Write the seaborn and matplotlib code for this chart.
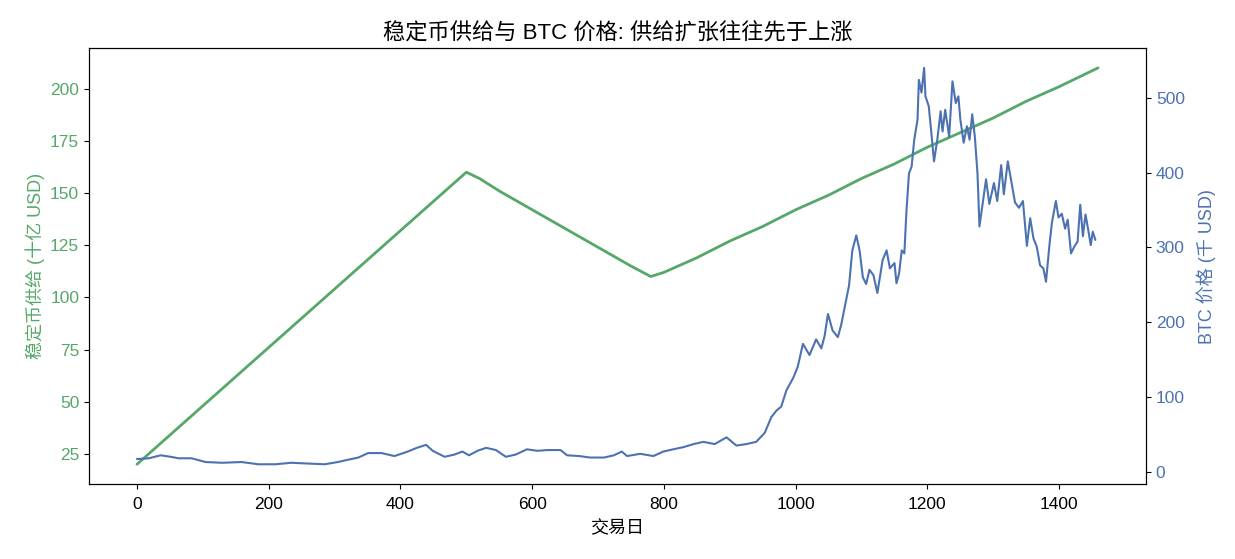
import numpy as np
import pandas as pd
import matplotlib
matplotlib.use("Agg")
import matplotlib.pyplot as plt
import seaborn as sns

# --------------------------------------------------
# Data

supply_day = [0, 50, 100, 150, 200, 250, 300, 350, 400, 450, 500, 520, 550, 600,
              650, 700, 750, 780, 800, 850, 900, 950, 1000, 1050, 1100, 1150,
              1200, 1250, 1300, 1350, 1400, 1459]
supply_val = [20, 34, 48, 62, 76, 90, 104, 118, 132, 146, 160, 157, 151, 142,
              133, 124, 115, 110, 112, 119, 127, 134, 142, 149, 157, 164,
              172, 179, 186, 194, 201, 210]

btc_day = [0, 18, 36, 51, 63, 83, 104, 129, 159, 184, 210, 234, 260, 285, 305,
           320, 336, 351, 371, 391, 411, 425, 439, 449, 467, 482, 494, 504, 517,
           530, 545, 560, 575, 592, 608, 623, 643, 653, 671, 688, 709, 724, 736,
           744, 764, 784, 799, 814, 830, 845, 860, 877, 895, 910, 925, 940, 953,
           963, 971, 978, 986, 996, 1003, 1011, 1021, 1031, 1039, 1044, 1049,
           1056, 1064, 1069, 1074, 1081, 1086, 1092, 1097, 1102, 1107, 1112,
           1118, 1124, 1132, 1138, 1143, 1150, 1153, 1157, 1161, 1165, 1168,
           1172, 1176, 1180, 1185, 1187, 1191, 1195, 1197, 1202, 1206, 1210,
           1215, 1220, 1223, 1227, 1233, 1238, 1243, 1247, 1250, 1255, 1260,
           1264, 1268, 1272, 1276, 1279, 1283, 1289, 1294, 1301, 1306, 1312,
           1316, 1322, 1328, 1333, 1339, 1345, 1351, 1356, 1361, 1366, 1371,
           1376, 1380, 1385, 1389, 1395, 1399, 1404, 1409, 1413, 1418, 1423,
           1428, 1432, 1436, 1440, 1444, 1448, 1451, 1455]
btc_val = [17, 18, 22, 20, 18, 18, 13, 12, 13, 10, 10, 12, 11, 10, 13,
           16, 19, 25, 25, 21, 27, 32, 36, 28, 20, 23, 27, 22, 28,
           32, 29, 20, 23, 30, 28, 29, 29, 22, 21, 19, 19, 22, 27,
           21, 24, 21, 27, 30, 33, 37, 40, 37, 46, 35, 37, 40, 52,
           73, 82, 87, 109, 125, 140, 171, 156, 177, 165, 182, 211,
           189, 180, 196, 218, 249, 296, 316, 296, 260, 251, 270,
           263, 239, 283, 296, 272, 279, 252, 265, 296, 292, 346,
           399, 408, 444, 471, 524, 507, 540, 502, 489, 453, 415,
           444, 482, 455, 484, 448, 522, 493, 502, 471, 440, 462,
           444, 478, 448, 399, 328, 353, 391, 358, 386, 362, 410,
           371, 415, 385, 360, 353, 362, 302, 339, 312, 301, 276,
           272, 254, 301, 333, 362, 340, 345, 325, 337, 292, 301,
           308, 357, 315, 344, 324, 303, 321, 310]

supply = pd.DataFrame({"day": supply_day, "supply": supply_val})
btc = pd.DataFrame({"day": btc_day, "price": btc_val})

green = "#55a868"
blue = "#4c72b0"

sns.set_style("ticks")
plt.rcParams["font.family"] = ["Liberation Sans", "Noto Sans CJK SC", "DejaVu Sans"]
plt.rcParams["text.color"] = "black"
plt.rcParams["axes.labelcolor"] = "black"
plt.rcParams["xtick.color"] = "black"
plt.rcParams["ytick.color"] = "black"

# --------------------------------------------------
# Plot

fig, ax = plt.subplots(figsize=(12.35, 5.59), dpi=100)
fig.subplots_adjust(left=0.072, right=0.928, top=0.914, bottom=0.134)

sns.lineplot(data=supply, x="day", y="supply", ax=ax, color=green, linewidth=2)

ax2 = ax.twinx()
sns.lineplot(data=btc, x="day", y="price", ax=ax2, color=blue, linewidth=1.5)

ax.set_xticks(range(0, 1401, 200))
ax.set_yticks(range(25, 201, 25))
ax2.set_yticks(range(0, 501, 100))

ax.set_xlabel("交易日", fontsize=13, labelpad=6)
ax.set_ylabel("稳定币供给 (十亿 USD)", color=green, fontsize=13)
ax2.set_ylabel("BTC 价格 (千 USD)", color=blue, fontsize=13, labelpad=8)
ax.tick_params(axis="y", labelcolor=green, labelsize=12.5)
ax.tick_params(axis="x", labelsize=12.5, pad=6)
ax2.tick_params(axis="y", labelcolor=blue, labelsize=12.5)
for a in (ax, ax2):
    for s in a.spines.values():
        s.set_visible(True)
        s.set_color("black")

ax.set_title("稳定币供给与 BTC 价格: 供给扩张往往先于上涨", fontsize=16)

fig.savefig("out.png", dpi=100)
